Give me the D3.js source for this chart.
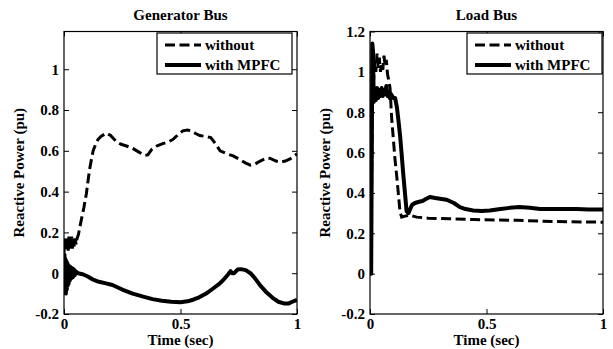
<!DOCTYPE html>
<html lang="en">
<head>
<meta charset="UTF-8" />
<title>Reactive Power</title>
<script src="https://d3js.org/d3.v7.min.js"></script>
<style>
  html, body { margin: 0; padding: 0; background: #fff; overflow: hidden; }
  svg { display: block; }
</style>
</head>
<body>
<svg width="613" height="349"></svg>
<script>
// data: [time (sec), reactive power (pu)]
const genWithout = [
  [0,0.10],[0.003,0.17],[0.006,0.11],[0.009,0.18],[0.012,0.11],[0.015,0.17],[0.018,0.11],[0.021,0.18],
  [0.024,0.12],[0.027,0.17],[0.030,0.12],[0.033,0.18],[0.036,0.12],[0.040,0.17],[0.044,0.13],[0.048,0.17],
  [0.052,0.14],[0.056,0.17],[0.062,0.19],[0.074,0.26],[0.085,0.32],[0.096,0.39],[0.104,0.46],[0.110,0.51],
  [0.118,0.56],[0.125,0.60],[0.135,0.63],[0.146,0.656],[0.160,0.672],[0.182,0.687],[0.200,0.675],[0.225,0.645],
  [0.245,0.632],[0.265,0.625],[0.295,0.612],[0.320,0.595],[0.345,0.578],[0.360,0.58],[0.375,0.605],[0.400,0.625],
  [0.424,0.635],[0.450,0.645],[0.467,0.655],[0.490,0.68],[0.510,0.698],[0.530,0.702],[0.545,0.698],[0.565,0.685],
  [0.583,0.675],[0.610,0.67],[0.630,0.665],[0.650,0.635],[0.670,0.60],[0.700,0.585],[0.726,0.575],[0.750,0.56],
  [0.780,0.54],[0.800,0.53],[0.820,0.535],[0.842,0.55],[0.870,0.565],[0.885,0.563],[0.910,0.55],[0.930,0.545],
  [0.950,0.55],[0.970,0.56],[1.000,0.585]
];
const genWith = [
  [0,0.02],[0.002,0.09],[0.004,-0.09],[0.006,0.07],[0.008,-0.10],[0.010,0.06],[0.012,-0.08],[0.014,0.05],
  [0.016,-0.06],[0.018,0.04],[0.020,-0.05],[0.022,0.035],[0.025,-0.035],[0.028,0.03],[0.031,-0.025],[0.034,0.025],
  [0.038,-0.02],[0.042,0.02],[0.046,-0.01],[0.050,0.01],[0.060,0.0],[0.080,-0.005],[0.100,-0.015],[0.122,-0.03],
  [0.150,-0.042],[0.180,-0.05],[0.208,-0.058],[0.250,-0.08],[0.295,-0.10],[0.340,-0.115],[0.380,-0.127],[0.420,-0.135],
  [0.460,-0.14],[0.500,-0.142],[0.530,-0.138],[0.554,-0.13],[0.580,-0.118],[0.610,-0.10],[0.640,-0.075],[0.669,-0.05],
  [0.690,-0.025],[0.705,-0.005],[0.715,0.01],[0.722,0.0],[0.730,0.0],[0.745,0.018],[0.760,0.02],[0.780,0.015],
  [0.800,0.0],[0.820,-0.025],[0.842,-0.06],[0.870,-0.095],[0.900,-0.125],[0.920,-0.14],[0.943,-0.148],[0.965,-0.148],
  [0.980,-0.14],[1.000,-0.13]
];
const loadWithout = [
  [0,0.0],[0.005,0.2],[0.010,0.85],[0.015,0.95],[0.020,1.05],[0.025,1.0],[0.030,1.09],[0.035,1.02],
  [0.040,1.07],[0.045,1.0],[0.050,1.04],[0.055,1.01],[0.060,1.08],[0.065,1.03],[0.070,1.06],[0.075,0.99],
  [0.080,0.96],[0.086,0.92],[0.093,0.77],[0.100,0.67],[0.107,0.57],[0.115,0.48],[0.121,0.405],[0.129,0.305],
  [0.136,0.28],[0.150,0.285],[0.170,0.29],[0.200,0.28],[0.250,0.275],[0.343,0.272],[0.450,0.268],[0.630,0.264],
  [0.800,0.258],[1.000,0.255]
];
const loadWith = [
  [0,0.0],[0.005,0.0],[0.010,1.14],[0.013,1.10],[0.016,0.85],[0.020,0.90],[0.025,0.86],[0.030,0.92],
  [0.035,0.87],[0.040,0.91],[0.045,0.88],[0.050,0.92],[0.055,0.88],[0.060,0.91],[0.065,0.89],[0.070,0.93],
  [0.075,0.88],[0.080,0.90],[0.085,0.87],[0.090,0.89],[0.100,0.87],[0.108,0.87],[0.116,0.82],[0.122,0.76],
  [0.129,0.685],[0.136,0.59],[0.143,0.49],[0.150,0.40],[0.157,0.31],[0.165,0.30],[0.180,0.34],[0.193,0.35],
  [0.207,0.355],[0.225,0.36],[0.240,0.37],[0.257,0.38],[0.280,0.375],[0.307,0.37],[0.329,0.366],[0.360,0.35],
  [0.386,0.33],[0.410,0.32],[0.443,0.313],[0.480,0.31],[0.514,0.313],[0.560,0.32],[0.600,0.326],[0.640,0.33],
  [0.686,0.327],[0.730,0.32],[0.771,0.32],[0.830,0.32],[0.886,0.32],[0.940,0.318],[1.000,0.318]
];

const xTicks = [0, 0.5, 1];
const genYTicks = [-0.2, 0, 0.2, 0.4, 0.6, 0.8, 1];
const loadYTicks = [-0.2, 0, 0.2, 0.4, 0.6, 0.8, 1, 1.2];
const legendLabels = ["without", "with MPFC"];

const FONT = "'Liberation Serif', Tinos, 'Times New Roman', 'DejaVu Serif', serif";
const svg = d3.select("svg");
const fmt = d => d === 0 ? "0" : String(d);

function txt(sel, size) {
  return sel.attr("font-family", FONT).attr("font-weight", "bold").attr("font-size", size).attr("fill", "#000");
}

function panel(opts) {
  const { left, right, top, bottom, yMax, yTicks, title, without, withM, legendX } = opts;
  const g = svg.append("g");
  const x = d3.scaleLinear().domain([0, 1]).range([left, right]);
  const y = d3.scaleLinear().domain([-0.2, yMax]).range([bottom, top]);

  const clipId = "clip" + left;
  g.append("clipPath").attr("id", clipId)
    .append("rect").attr("x", left).attr("y", top).attr("width", right - left).attr("height", bottom - top);

  const line = d3.line().x(d => x(d[0])).y(d => y(d[1]));
  const curves = g.append("g").attr("clip-path", `url(#${clipId})`);
  curves.append("path").attr("d", line(without))
    .attr("fill", "none").attr("stroke", "#000").attr("stroke-width", 3)
    .attr("stroke-dasharray", "10,4.5");
  curves.append("path").attr("d", line(withM))
    .attr("fill", "none").attr("stroke", "#000").attr("stroke-width", 4)
    .attr("stroke-linejoin", "round");

  // axes with inward ticks on all four sides
  const tl = 5;
  const ax = [
    g.append("g").attr("transform", `translate(0,${bottom})`)
      .call(d3.axisBottom(x).tickValues(xTicks).tickSize(-tl).tickPadding(4).tickFormat(fmt)),
    g.append("g").attr("transform", `translate(0,${top})`)
      .call(d3.axisTop(x).tickValues(xTicks).tickSize(-tl).tickFormat("")),
    g.append("g").attr("transform", `translate(${left},0)`)
      .call(d3.axisLeft(y).tickValues(yTicks).tickSize(-tl).tickPadding(5).tickFormat(fmt)),
    g.append("g").attr("transform", `translate(${right},0)`)
      .call(d3.axisRight(y).tickValues(yTicks).tickSize(-tl).tickFormat(""))
  ];
  ax.forEach(a => a.attr("font-family", FONT).attr("font-size", 15).attr("font-weight", "bold"));
  g.selectAll(".domain").remove();
  g.selectAll(".tick line").attr("stroke", "#000");
  g.selectAll(".tick text").attr("fill", "#000");
  g.append("rect").attr("x", left).attr("y", top).attr("width", right - left).attr("height", bottom - top)
    .attr("fill", "none").attr("stroke", "#000").attr("stroke-width", 1.2);

  txt(g.append("text"), 15).attr("x", (left + right) / 2).attr("y", 20)
    .attr("text-anchor", "middle").text(title);
  txt(g.append("text"), 15).attr("x", (left + right) / 2).attr("y", 345)
    .attr("text-anchor", "middle").text("Time (sec)");
  txt(g.append("text"), 15).attr("transform", `translate(${left - 40},${(top + bottom) / 2}) rotate(-90)`)
    .attr("text-anchor", "middle").text("Reactive Power (pu)");

  // legend
  const lx = legendX, ly = top + 1.5, lw = 135, lh = 41;
  const lg = g.append("g");
  lg.append("rect").attr("x", lx).attr("y", ly).attr("width", lw).attr("height", lh)
    .attr("fill", "#fff").attr("stroke", "#000").attr("stroke-width", 1.2);
  legendLabels.forEach((lab, i) => {
    const cy = ly + 12 + i * 20;
    lg.append("line").attr("x1", lx + 8).attr("x2", lx + 44).attr("y1", cy).attr("y2", cy)
      .attr("stroke", "#000").attr("stroke-width", i === 0 ? 3 : 4)
      .attr("stroke-dasharray", i === 0 ? "10,4.5" : null);
    txt(lg.append("text"), 15).attr("x", lx + 48).attr("y", cy + 5).text(lab);
  });
}

panel({ left: 64, right: 297, top: 31.5, bottom: 314, yMax: 1.185, yTicks: genYTicks,
        title: "Generator Bus", without: genWithout, withM: genWith, legendX: 157 });
panel({ left: 370, right: 603, top: 31.5, bottom: 314, yMax: 1.2, yTicks: loadYTicks,
        title: "Load Bus", without: loadWithout, withM: loadWith, legendX: 467 });
</script>
</body>
</html>
